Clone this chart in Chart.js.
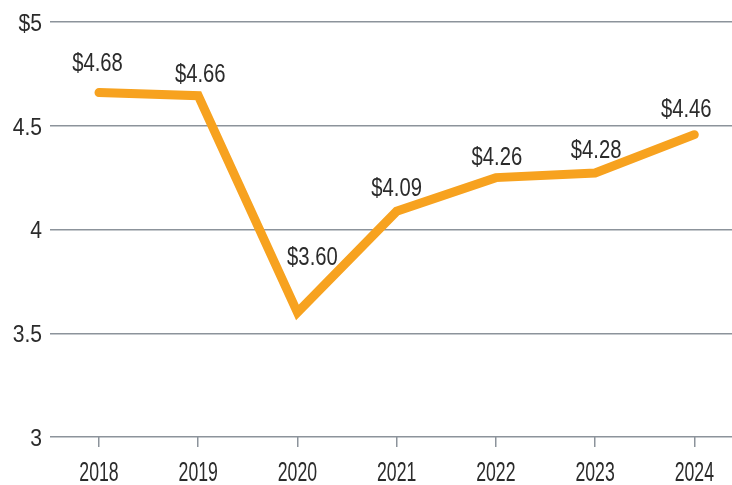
<!DOCTYPE html>
<html>
<head>
<meta charset="utf-8">
<script src="https://cdn.jsdelivr.net/npm/chart.js@4"></script>
<style>
  html, body { margin: 0; padding: 0; background: #ffffff; }
  #wrap { width: 732px; height: 485px; position: relative; }
</style>
</head>
<body>
<div id="wrap"><canvas id="c" width="732" height="485"></canvas></div>
<script>
const years = [2018, 2019, 2020, 2021, 2022, 2023, 2024];
const prices = [4.66, 4.645, 3.60, 4.088, 4.25, 4.272, 4.457];
const priceLabels = ['$4.68', '$4.66', '$3.60', '$4.09', '$4.26', '$4.28', '$4.46'];
const yTicks = [3, 3.5, 4, 4.5, 5];
const yTickLabels = ['3', '3.5', '4', '4.5', '$5'];

const FONT = '"Liberation Sans", Arial, sans-serif';
const TEXT = '#2b2b2b';
const GRID = '#8c939b';
const ORANGE = '#F7A21F';
const CAP = 0.716;

function drawNarrow(ctx, text, x, baseline, size, sx, align) {
  ctx.save();
  ctx.font = size + 'px ' + FONT;
  ctx.fillStyle = TEXT;
  ctx.textBaseline = 'alphabetic';
  ctx.textAlign = align;
  ctx.scale(sx, 1);
  ctx.fillText(text, x / sx, baseline);
  ctx.restore();
}

const textPlugin = {
  id: 'narrowText',
  afterDatasetsDraw(chart, args, opts) {
    const ctx = chart.ctx;
    const xs = chart.scales.x, ys = chart.scales.y;
    // y tick labels
    yTicks.forEach((v, i) => {
      const y = ys.getPixelForValue(v);
      drawNarrow(ctx, yTickLabels[i], chart.chartArea.left - 8, y + opts.ySize * CAP / 2, opts.ySize, opts.ySx, 'right');
    });
    // x tick labels
    years.forEach(v => {
      drawNarrow(ctx, String(v), xs.getPixelForValue(v), opts.xBaseline, opts.xSize, opts.xSx, 'center');
    });
    // value labels
    const meta = chart.getDatasetMeta(0);
    meta.data.forEach((pt, i) => {
      const off = opts.offsets[i];
      drawNarrow(ctx, priceLabels[i], pt.x + off[0], pt.y + off[1] + opts.lSize * CAP / 2, opts.lSize, opts.lSx, 'center');
    });
  }
};

new Chart(document.getElementById('c'), {
  type: 'line',
  data: {
    datasets: [{
      data: years.map((y, i) => ({ x: y, y: prices[i] })),
      borderColor: ORANGE,
      borderWidth: 9,
      borderCapStyle: 'round',
      borderJoinStyle: 'miter',
      pointRadius: 0,
      tension: 0,
      fill: false
    }]
  },
  options: {
    responsive: false,
    animation: false,
    layout: { padding: { top: 22, right: 0, left: 0, bottom: 0 } },
    plugins: {
      legend: { display: false },
      tooltip: { enabled: false },
      narrowText: {
        ySize: 24.5, ySx: 0.86,
        xSize: 28.5, xSx: 0.62, xBaseline: 480.5,
        lSize: 25, lSx: 0.81,
        offsets: [[-1.5, -30.5], [2, -23], [15, -56], [0, -24], [1, -22], [1, -24], [-8, -27]]
      }
    },
    scales: {
      x: {
        type: 'linear',
        min: 2017.506,
        max: 2024.38,
        afterBuildTicks: s => { s.ticks = years.map(v => ({ value: v })); },
        afterFit: s => { s.height = 48; },
        border: { display: false },
        grid: { drawOnChartArea: false, drawTicks: true, tickLength: 10, color: GRID, lineWidth: 1.5 },
        ticks: { display: false }
      },
      y: {
        min: 3,
        max: 5,
        afterBuildTicks: s => { s.ticks = yTicks.map(v => ({ value: v })); },
        afterFit: s => { s.width = 50; },
        border: { display: false },
        grid: { drawTicks: false, color: GRID, lineWidth: 1.5 },
        ticks: { display: false }
      }
    }
  },
  plugins: [textPlugin]
});
</script>
</body>
</html>
